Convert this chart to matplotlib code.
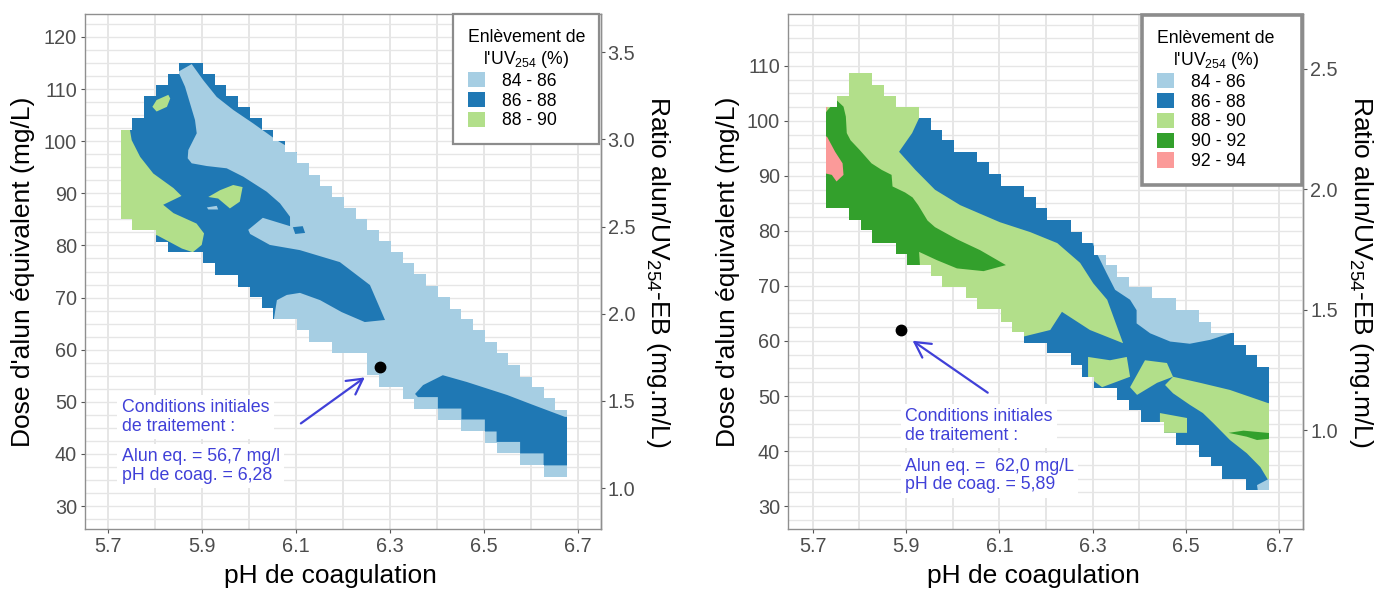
import numpy as np
import matplotlib
matplotlib.use("Agg")
import matplotlib.pyplot as plt
from matplotlib.patches import Polygon, Patch

plt.rcParams['font.family'] = ['Liberation Sans', 'DejaVu Sans']
plt.rcParams['mathtext.fontset'] = 'custom'
plt.rcParams['mathtext.rm'] = 'Liberation Sans'
plt.rcParams['mathtext.it'] = 'Liberation Sans:italic'
plt.rcParams['mathtext.bf'] = 'Liberation Sans:bold'

# ---------------- data ----------------
CLASSES = ['84 - 86', '86 - 88', '88 - 90', '90 - 92', '92 - 94']
COLORS = ['#a6cee3', '#1f78b4', '#b2df8a', '#33a02c', '#fb9a99']

# centres of the pH cells of the response grid
PH_CELLS = [5.740, 5.765, 5.790, 5.815, 5.840, 5.865, 5.890, 5.915, 5.940, 5.965,
            5.990, 6.015, 6.040, 6.065, 6.090, 6.115, 6.140, 6.165, 6.190, 6.215,
            6.240, 6.265, 6.290, 6.315, 6.340, 6.365, 6.390, 6.415, 6.440, 6.465,
            6.490, 6.515, 6.540, 6.565, 6.590, 6.615, 6.640, 6.665]
CELL_WIDTH = 0.025

# explored dose range (mg/L) for each pH cell
LEFT_TOP = [102.2, 104.4, 108.7, 110.8, 112.9, 115.1, 115.1, 112.9, 110.8, 108.7,
            106.6, 104.5, 102.2, 100.1, 97.9, 95.8, 93.5, 91.4, 89.3, 87.2,
            85.0, 82.9, 80.8, 78.7, 76.6, 74.5, 72.3, 70.2, 67.9, 65.9,
            63.8, 61.5, 59.3, 57.0, 54.8, 52.9, 50.7, 48.5]
LEFT_BOTTOM = [85.1, 83.0, 83.0, 80.7, 78.7, 78.7, 78.7, 76.6, 74.3, 74.3,
               72.1, 70.2, 68.0, 65.8, 65.8, 63.8, 61.5, 61.5, 59.4, 59.4,
               59.4, 55.1, 52.9, 52.9, 50.6, 48.7, 48.7, 46.5, 46.5, 44.4,
               44.4, 42.1, 40.1, 40.1, 37.9, 37.9, 35.6, 35.6]
RIGHT_TOP = [102.5, 104.5, 108.7, 108.7, 106.5, 104.5, 102.5, 102.5, 100.5, 98.4,
             96.6, 94.3, 94.3, 92.5, 90.4, 88.2, 88.2, 86.2, 84.1, 82.0,
             82.0, 79.9, 77.8, 75.6, 73.8, 71.7, 69.9, 69.9, 67.8, 67.8,
             65.6, 65.6, 63.5, 61.4, 61.4, 59.3, 57.5, 55.3]
RIGHT_BOTTOM = [84.1, 84.1, 82.0, 80.1, 77.9, 77.9, 75.9, 73.9, 73.9, 71.8,
                69.9, 69.9, 67.8, 65.8, 65.8, 63.5, 61.7, 59.6, 59.6, 57.8,
                57.8, 55.6, 53.5, 51.4, 51.4, 49.3, 47.5, 45.3, 45.3, 43.2,
                41.1, 41.1, 39.0, 37.2, 35.0, 35.0, 32.9, 32.9]

# base class of each panel and iso-removal regions (class index, (pH, dose) outline)
LEFT_BASE = 1
LEFT_REGIONS = [
    (0, [(5.8502, 113.34), (5.8787, 114.8), (5.9034, 111.7), (5.9319, 108.5), (5.9672, 106.0),
         (6.0098, 103.4), (6.0596, 100.2), (6.0949, 98.3), (6.1375, 95.8), (6.1943, 98.3),
         (6.79, 48.4), (6.79, 27.3), (6.06, 27.3), (6.05, 63.8), (6.06, 69.5), (6.081, 70.5),
         (6.109, 70.9), (6.152, 69.5), (6.198, 67.2), (6.247, 65.3), (6.290, 65.7), (6.258, 72.4),
         (6.194, 76.8), (6.109, 79.1), (6.045, 80.1), (6.003, 82.2), (5.999, 83.0), (6.030, 85.3),
         (6.088, 83.7), (6.0879, 85.51), (6.0666, 88.08), (6.0383, 90.31), (5.9885, 93.19),
         (5.9532, 94.80), (5.9106, 95.24), (5.8787, 95.76), (5.8702, 96.72), (5.8715, 98.31),
         (5.8787, 99.60), (5.8894, 101.52), (5.8857, 104.07), (5.8751, 107.27), (5.8645, 110.46)]),
    (1, [(6.094, 83.5), (6.115, 83.7), (6.120, 82.4), (6.099, 82.2)]),
    (1, [(6.354, 51.5), (6.371, 53.2), (6.413, 55.1), (6.464, 53.8), (6.550, 51.3), (6.605, 49.4),
         (6.673, 47.1), (6.716, 47.1), (6.716, 37.8), (6.6275, 37.8), (6.6275, 40.1), (6.5775, 40.1),
         (6.5775, 42.3), (6.5275, 42.3), (6.5275, 44.3), (6.5025, 44.3), (6.5025, 46.6),
         (6.4525, 46.6), (6.4525, 48.7), (6.4025, 48.7), (6.4025, 50.9), (6.36, 50.9)]),
    (2, [(5.684, 104.1), (5.747, 102.3), (5.751, 100.2), (5.769, 97.0), (5.797, 93.8),
         (5.840, 91.0), (5.857, 89.5), (5.818, 87.8), (5.840, 86.2), (5.889, 84.2), (5.905, 82.3),
         (5.900, 80.1), (5.881, 78.7), (5.858, 79.4), (5.804, 82.0), (5.790, 81.0), (5.684, 81.0)]),
    (2, [(5.795, 106.6), (5.804, 107.9), (5.829, 108.9), (5.833, 108.2), (5.826, 106.6), (5.804, 105.7)]),
    (2, [(5.914, 89.3), (5.939, 90.6), (5.967, 91.6), (5.987, 91.2), (5.981, 88.4), (5.960, 87.1),
         (5.935, 89.0)]),
    (0, [(5.911, 87.3), (5.932, 87.6), (5.935, 86.9), (5.914, 86.9)]),
]

RIGHT_BASE = 2
RIGHT_REGIONS = [
    (1, [(5.885, 94.4), (5.913, 97.8), (5.941, 102.9), (6.745, 67.5), (6.745, 27.5), (6.123, 27.5),
         (6.123, 60.2), (6.166, 61.1), (6.209, 62.0), (6.234, 65.3), (6.294, 62.0), (6.365, 59.6),
         (6.331, 67.5), (6.301, 70.5), (6.273, 74.2), (6.224, 77.8), (6.166, 79.8), (6.101, 81.6),
         (6.016, 84.7), (5.962, 87.5), (5.920, 91.1)]),
    (2, [(6.472, 53.5), (6.530, 52.4), (6.594, 51.1), (6.676, 48.7), (6.745, 48.7), (6.745, 34.7),
         (6.676, 34.7), (6.659, 37.1), (6.630, 39.6), (6.594, 42.0), (6.558, 45.1), (6.536, 46.9),
         (6.508, 48.4), (6.472, 50.5), (6.455, 52.0)]),
    (2, [(6.290, 57.1), (6.337, 56.5), (6.373, 57.1), (6.380, 53.5), (6.320, 51.6), (6.290, 53.5)]),
    (2, [(6.412, 56.5), (6.459, 56.0), (6.472, 53.5), (6.438, 52.4), (6.395, 50.2), (6.380, 51.6)]),
    (2, [(6.444, 46.9), (6.502, 46.0), (6.502, 43.3), (6.444, 43.3)]),
    (0, [(6.291, 79.6), (6.309, 75.9), (6.330, 72.3), (6.348, 69.3), (6.380, 67.5), (6.394, 65.6),
         (6.394, 63.2), (6.423, 61.4), (6.466, 59.9), (6.508, 59.5), (6.551, 60.2), (6.598, 61.5),
         (6.616, 67.5), (6.273, 89.3)]),
    (3, [(5.716, 101.1), (5.726, 101.4), (5.751, 103.8), (5.766, 102.6), (5.771, 100.8),
         (5.773, 97.8), (5.781, 96.5), (5.801, 94.7), (5.826, 92.3), (5.848, 91.1), (5.869, 90.2),
         (5.871, 88.1), (5.898, 87.0), (5.914, 86.1), (5.926, 84.7), (5.946, 81.9), (5.962, 80.7),
         (6.009, 78.5), (6.059, 76.5), (6.114, 73.8), (6.066, 72.7), (6.009, 73.2), (5.966, 74.7),
         (5.928, 76.2), (5.930, 73.5), (5.930, 70.5), (5.716, 70.5)]),
    (3, [(6.591, 43.3), (6.623, 43.7), (6.700, 43.1), (6.700, 42.4), (6.652, 42.0), (6.630, 42.6)]),
    (4, [(5.710, 98.05), (5.731, 97.1), (5.748, 94.4), (5.764, 92.3), (5.766, 90.2), (5.751, 89.0),
         (5.741, 90.2), (5.710, 90.8)]),
    (4, [(5.715, 103.0), (5.733, 103.0), (5.726, 100.8), (5.715, 100.5)]),
    (0, [(6.652, 33.8), (6.690, 35.5), (6.690, 32.0), (6.655, 32.0)]),
]

# initial treatment conditions
LEFT_INIT_PH, LEFT_INIT_DOSE = 6.28, 56.7
RIGHT_INIT_PH, RIGHT_INIT_DOSE = 5.89, 62.0
LEFT_TEXT = ("Conditions initiales\nde traitement :", "Alun eq. = 56,7 mg/l\npH de coag. = 6,28")
RIGHT_TEXT = ("Conditions initiales\nde traitement :", "Alun eq. =  62,0 mg/L\npH de coag. = 5,89")

# alum dose / UV254-EB conversion factor (mg/L per ratio unit)
LEFT_RATIO_FACTOR = 33.45
RIGHT_RATIO_FACTOR = 43.8
LEFT_RATIO_TICKS = [1.0, 1.5, 2.0, 2.5, 3.0, 3.5]
RIGHT_RATIO_TICKS = [1.0, 1.5, 2.0, 2.5]
X_TICKS = [5.7, 5.9, 6.1, 6.3, 6.5, 6.7]
LEFT_YTICKS = [30, 40, 50, 60, 70, 80, 90, 100, 110, 120]
RIGHT_YTICKS = [30, 40, 50, 60, 70, 80, 90, 100, 110]

# ---------------- style ----------------
ANN = '#4040d8'
GRID = '#e6e6e6'
BORDER = '#8f8f8f'
TICKLAB = '#4d4d4d'
TICK_FS = 14.3
TITLE_FS = 19
LEG_FS = 12.7
ANN_FS = 12.8


def domain_outline(top, bottom):
    h = CELL_WIDTH / 2
    upper = []
    for c, t in zip(PH_CELLS, top):
        upper += [(c - h, t), (c + h, t)]
    lower = []
    for c, b in zip(PH_CELLS[::-1], bottom[::-1]):
        lower += [(c + h, b), (c - h, b)]
    return upper + lower


def draw_panel(ax, top, bottom, base, regions, xlim, ylim, yticks, factor, rticks,
               init, arrow_from, arrow_to, text_x, text_y, texts, n_leg, leg_bbox,
               leg_lw, leg_pad, label_x, rlabel_x):
    ax.set_xticks(X_TICKS)
    ax.set_xticks(np.round(np.arange(5.6, 6.8, 0.1), 2), minor=True)
    ax.set_yticks(yticks)
    ax.set_yticks(np.arange(25, 125.1, 2.5), minor=True)
    ax.set_xticklabels([f"{v:.1f}" for v in X_TICKS])
    ax.set_xlim(*xlim)
    ax.set_ylim(*ylim)
    ax.grid(True, which='both', axis='x', color=GRID, lw=1.4, zorder=0)
    ax.grid(True, which='both', axis='y', color=GRID, lw=1.0, zorder=0)
    ax.set_axisbelow(True)
    ax.tick_params(which='minor', length=0)
    ax.tick_params(which='major', length=3, width=0.8, color='#555555', labelsize=TICK_FS,
                   labelcolor=TICKLAB, pad=3)
    for s in ax.spines.values():
        s.set_color(BORDER)
        s.set_linewidth(1.0)

    dom = Polygon(domain_outline(top, bottom), closed=True, facecolor=COLORS[base],
                  edgecolor='none', zorder=1)
    ax.add_patch(dom)
    for cls, pts in regions:
        p = Polygon(pts, closed=True, facecolor=COLORS[cls], edgecolor='none', zorder=2)
        ax.add_patch(p)
        p.set_clip_path(dom)

    ax.plot([init[0]], [init[1]], 'o', color='black', ms=7.5, zorder=6)
    ax.annotate('', xy=arrow_to, xytext=arrow_from,
                arrowprops=dict(arrowstyle='->,head_length=0.55,head_width=0.3', color=ANN,
                                lw=1.6, shrinkA=0, shrinkB=0, mutation_scale=20), zorder=6)
    for t, y in zip(texts, text_y):
        ax.text(text_x, y, t, color=ANN, fontsize=ANN_FS, ha='left', va='center',
                linespacing=1.1, zorder=5,
                bbox=dict(boxstyle='square,pad=0.25', fc='white', ec='none'))

    ax.set_xlabel('pH de coagulation', fontsize=TITLE_FS, va='center')
    ax.xaxis.set_label_coords(0.476, -0.091)
    ax.set_ylabel("Dose d'alun équivalent (mg/L)", fontsize=TITLE_FS, va='center',
                  ha='center', rotation=90, rotation_mode='anchor')
    ax.yaxis.set_label_coords(label_x, 0.5)

    sec = ax.secondary_yaxis('right', functions=(lambda d: d / factor, lambda r: r * factor))
    sec.set_yticks(rticks)
    sec.set_yticklabels([f"{v:.1f}" for v in rticks])
    sec.tick_params(length=3, width=0.8, color='#555555', labelsize=TICK_FS,
                    labelcolor=TICKLAB, pad=2)
    sec.spines['right'].set_color(BORDER)
    sec.spines['right'].set_linewidth(1.0)
    ax.text(rlabel_x, 0.5, 'Ratio alun/UV$_{\\mathrm{254}}$-EB (mg.m/L)', fontsize=TITLE_FS,
            rotation=270, va='center', ha='center', rotation_mode='anchor',
            transform=ax.transAxes)

    handles = [Patch(facecolor=COLORS[i], edgecolor='none', label=CLASSES[i]) for i in range(n_leg)]
    leg = ax.legend(handles=handles, title="Enlèvement de\nl'UV$_{\\mathrm{254}}$ (%)",
                    loc='upper right', bbox_to_anchor=leg_bbox, mode='expand',
                    borderaxespad=0, fontsize=LEG_FS, title_fontsize=LEG_FS, frameon=True,
                    fancybox=False, edgecolor='#8c8c8c', framealpha=1, handlelength=0.95,
                    handleheight=0.95, handletextpad=1.0, labelspacing=0.12,
                    borderpad=leg_pad, alignment='left')
    leg.get_frame().set_linewidth(leg_lw)
    leg.get_title().set_multialignment('center')
    leg.set_zorder(10)


fig = plt.figure(figsize=(13.74, 5.90), dpi=100)
axL = fig.add_axes([85.3 / 1374, 61 / 590, 515.4 / 1374, 515 / 590])
axR = fig.add_axes([788.3 / 1374, 61 / 590, 515 / 1374, 515 / 590])

draw_panel(axL, LEFT_TOP, LEFT_BOTTOM, LEFT_BASE, LEFT_REGIONS, (5.6523, 6.749), (25.59, 124.41),
           LEFT_YTICKS, LEFT_RATIO_FACTOR, LEFT_RATIO_TICKS, (LEFT_INIT_PH, LEFT_INIT_DOSE),
           (6.111, 45.85), (6.247, 54.68), 5.7298, (47.06, 37.66), LEFT_TEXT, 3,
           (0.7134, 0.0, 0.2833, 1.0), 1.6, 0.85, -0.1203, 1.1112)
draw_panel(axR, RIGHT_TOP, RIGHT_BOTTOM, RIGHT_BASE, RIGHT_REGIONS, (5.6477, 6.7512), (25.82, 119.45),
           RIGHT_YTICKS, RIGHT_RATIO_FACTOR, RIGHT_RATIO_TICKS, (RIGHT_INIT_PH, RIGHT_INIT_DOSE),
           (6.075, 50.6), (5.914, 60.05), 5.8978, (44.55, 35.55), RIGHT_TEXT, 5,
           (0.6868, 0.0, 0.3107, 0.998), 2.6, 0.85, -0.118, 1.113)

fig.savefig('out.png', dpi=100)
